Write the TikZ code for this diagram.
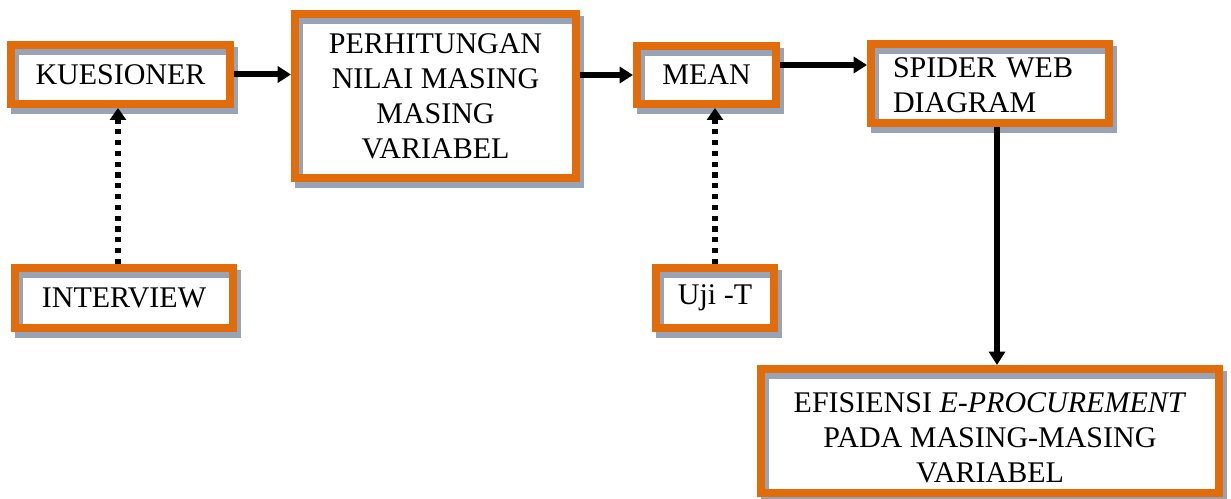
\documentclass[tikz,border=0pt]{standalone}
\usepackage{fontspec}
\setmainfont{Liberation Serif}
\usetikzlibrary{arrows.meta,calc}
\definecolor{boxorange}{RGB}{227,108,10}
\definecolor{shadowgray}{RGB}{152,163,182}
\tikzset{
 box/.style={rectangle, draw=boxorange, line width=6pt, fill=white, outer sep=3pt, inner sep=0pt,
  preaction={draw=shadowgray, fill=shadowgray, line width=6pt, transform canvas={shift={(4,6)}}},
  path picture={\fill[shadowgray] (path picture bounding box.north west) rectangle ([yshift=-7.5pt]path picture bounding box.north east);
   \fill[shadowgray] (path picture bounding box.north west) rectangle ([xshift=6pt]path picture bounding box.south west);},
  font=\fontsize{22.5}{26.25}\selectfont, align=center},
 arr/.style={line width=4.5pt, -{Triangle[length=10pt,width=12pt]}},
 dotarr/.style={line width=4.2pt, dash pattern=on 3.9pt off 4.2pt, -{Triangle[length=9pt,width=12pt]}},
}
\begin{document}
\begin{tikzpicture}[x=0.75pt,y=-0.75pt]
\useasboundingbox (0,0) rectangle (1231,499);
\node[box, minimum width=164.25pt, minimum height=44.25pt] (kues) at (120.5,74.5) {KUESIONER};
\node[box, minimum width=210.75pt, minimum height=123pt] (perh) at (435.5,96) {PERHITUNGAN\\NILAI MASING\\MASING\\VARIABEL};
\node[box, minimum width=104.25pt, minimum height=43.5pt] (mean) at (706.5,75) {MEAN};
\node[box, minimum width=178.5pt, minimum height=59.25pt, text width=145.5pt, align=left] (spider) at (990,83.5) {\rule{0pt}{17pt}SPIDER WEB\\DIAGRAM};
\node[box, minimum width=343.5pt, minimum height=93pt] (efis) at (990,431) {\rule{0pt}{25.5pt}EFISIENSI \textit{E-PROCUREMENT}\\PADA MASING-MASING\\VARIABEL};
\node[box, minimum width=163.5pt, minimum height=45pt] (interview) at (124,298) {INTERVIEW};
\node[box, minimum width=88.5pt, minimum height=45pt] (uji) at (715,298) {Uji -T};
\coordinate (m1) at ($(mean.east)+(0,-10)$);
\draw[arr] (kues.east) -- (kues.east -| perh.west);
\draw[arr] (mean.west -| perh.east) -- (mean.west);
\draw[arr] (m1) -- (m1 -| spider.west);
\draw[arr] ([xshift=5.25pt]spider.south) -- ([xshift=5.25pt]spider.south |- efis.north);
\draw[dotarr] ([xshift=-4.5pt]interview.north) -- ([xshift=-4.5pt]interview.north |- kues.south);
\draw[dotarr] (uji.north) -- (uji.north |- mean.south);
\end{tikzpicture}
\end{document}
